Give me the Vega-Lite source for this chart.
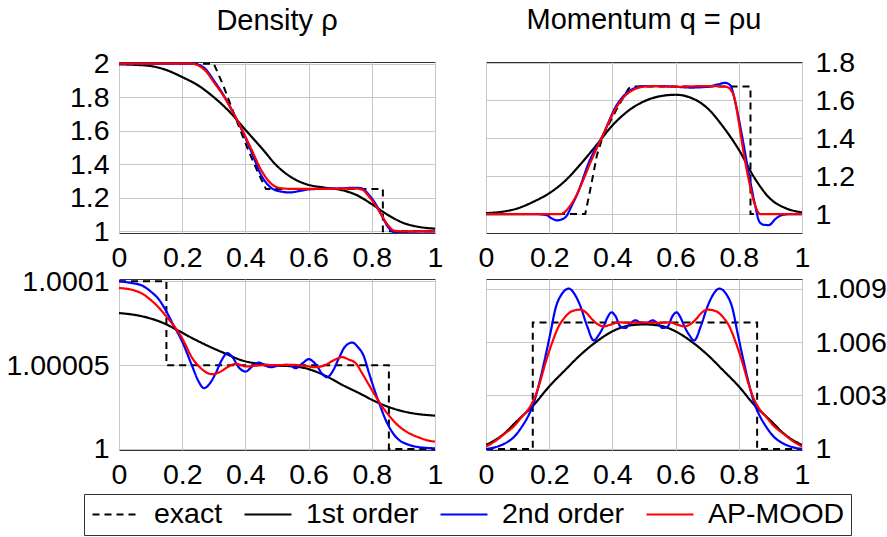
{
"$schema": "https://vega.github.io/schema/vega-lite/v6.json",
"padding": 5,
"background": "white",
"config": {
  "font": "Liberation Sans",
  "view": {"stroke": "#333", "strokeWidth": 1},
  "axis": {"labelFontSize": 28.5, "labelFont": "Liberation Sans", "labelColor": "#000", "ticks": false, "domain": false, "gridColor": "#c8c8c8", "gridWidth": 1, "labelFlush": false, "labelOverlap": false, "labelPadding": 10, "title": null},
  "axisX": {"labelPadding": 10},
  "axisRight": {"labelPadding": 13},
  "title": {"fontSize": 29, "fontWeight": "normal", "color": "#000", "font": "Liberation Sans"},
  "legend": {"orient": "none", "legendX": -35, "legendY": 432, "direction": "horizontal", "columns": 4, "symbolType": "M-1,0H3", "symbolSize": 552, "symbolStrokeWidth": 2, "labelFontSize": 28.5, "labelFont": "Liberation Sans", "labelColor": "#000", "labelOffset": 35.5, "columnPadding": 17, "padding": 6, "strokeColor": "#333", "labelLimit": 400}
},
"datasets": {
"d1": [
{"x":0,"y":2,"s":"exact"},{"x":0.3,"y":2,"s":"exact"},{"x":0.33,"y":1.87,"s":"exact"},{"x":0.37,"y":1.67,"s":"exact"},{"x":0.41,"y":1.48,"s":"exact"},{"x":0.44,"y":1.35,"s":"exact"},{"x":0.465,"y":1.253,"s":"exact"},{"x":0.835,"y":1.253,"s":"exact"},{"x":0.835,"y":1,"s":"exact"},{"x":1,"y":1,"s":"exact"},
{"x":0,"y":1.996,"s":"1st order"},{"x":0.05,"y":1.993,"s":"1st order"},{"x":0.1,"y":1.986,"s":"1st order"},{"x":0.15,"y":1.962,"s":"1st order"},{"x":0.2,"y":1.92,"s":"1st order"},{"x":0.25,"y":1.871,"s":"1st order"},{"x":0.3,"y":1.8,"s":"1st order"},{"x":0.35,"y":1.713,"s":"1st order"},{"x":0.4,"y":1.605,"s":"1st order"},{"x":0.45,"y":1.5,"s":"1st order"},{"x":0.5,"y":1.39,"s":"1st order"},{"x":0.55,"y":1.317,"s":"1st order"},{"x":0.6,"y":1.277,"s":"1st order"},{"x":0.65,"y":1.261,"s":"1st order"},{"x":0.7,"y":1.248,"s":"1st order"},{"x":0.75,"y":1.218,"s":"1st order"},{"x":0.8,"y":1.162,"s":"1st order"},{"x":0.85,"y":1.099,"s":"1st order"},{"x":0.9,"y":1.05,"s":"1st order"},{"x":0.95,"y":1.026,"s":"1st order"},{"x":1,"y":1.016,"s":"1st order"},
{"x":0,"y":2,"s":"2nd order"},{"x":0.23,"y":2,"s":"2nd order"},{"x":0.25,"y":1.995,"s":"2nd order"},{"x":0.275,"y":1.965,"s":"2nd order"},{"x":0.3,"y":1.9,"s":"2nd order"},{"x":0.33,"y":1.815,"s":"2nd order"},{"x":0.36,"y":1.713,"s":"2nd order"},{"x":0.39,"y":1.6,"s":"2nd order"},{"x":0.42,"y":1.47,"s":"2nd order"},{"x":0.45,"y":1.335,"s":"2nd order"},{"x":0.48,"y":1.262,"s":"2nd order"},{"x":0.51,"y":1.238,"s":"2nd order"},{"x":0.54,"y":1.232,"s":"2nd order"},{"x":0.57,"y":1.24,"s":"2nd order"},{"x":0.6,"y":1.25,"s":"2nd order"},{"x":0.65,"y":1.254,"s":"2nd order"},{"x":0.7,"y":1.256,"s":"2nd order"},{"x":0.75,"y":1.26,"s":"2nd order"},{"x":0.77,"y":1.255,"s":"2nd order"},{"x":0.79,"y":1.22,"s":"2nd order"},{"x":0.81,"y":1.17,"s":"2nd order"},{"x":0.83,"y":1.1,"s":"2nd order"},{"x":0.85,"y":1.03,"s":"2nd order"},{"x":0.87,"y":0.995,"s":"2nd order"},{"x":0.89,"y":0.992,"s":"2nd order"},{"x":0.92,"y":0.998,"s":"2nd order"},{"x":1,"y":1,"s":"2nd order"},
{"x":0,"y":2,"s":"AP-MOOD"},{"x":0.23,"y":2,"s":"AP-MOOD"},{"x":0.25,"y":1.99,"s":"AP-MOOD"},{"x":0.275,"y":1.955,"s":"AP-MOOD"},{"x":0.3,"y":1.89,"s":"AP-MOOD"},{"x":0.33,"y":1.81,"s":"AP-MOOD"},{"x":0.36,"y":1.713,"s":"AP-MOOD"},{"x":0.39,"y":1.604,"s":"AP-MOOD"},{"x":0.42,"y":1.485,"s":"AP-MOOD"},{"x":0.45,"y":1.366,"s":"AP-MOOD"},{"x":0.48,"y":1.287,"s":"AP-MOOD"},{"x":0.51,"y":1.258,"s":"AP-MOOD"},{"x":0.55,"y":1.253,"s":"AP-MOOD"},{"x":0.6,"y":1.253,"s":"AP-MOOD"},{"x":0.65,"y":1.253,"s":"AP-MOOD"},{"x":0.7,"y":1.255,"s":"AP-MOOD"},{"x":0.75,"y":1.255,"s":"AP-MOOD"},{"x":0.77,"y":1.248,"s":"AP-MOOD"},{"x":0.79,"y":1.21,"s":"AP-MOOD"},{"x":0.81,"y":1.16,"s":"AP-MOOD"},{"x":0.83,"y":1.1,"s":"AP-MOOD"},{"x":0.85,"y":1.04,"s":"AP-MOOD"},{"x":0.87,"y":1.005,"s":"AP-MOOD"},{"x":0.9,"y":1,"s":"AP-MOOD"},{"x":1,"y":1,"s":"AP-MOOD"}
],
"d2": [
{"x":0,"y":1,"s":"exact"},{"x":0.314,"y":1,"s":"exact"},{"x":0.33,"y":1.13,"s":"exact"},{"x":0.351,"y":1.31,"s":"exact"},{"x":0.372,"y":1.424,"s":"exact"},{"x":0.4,"y":1.51,"s":"exact"},{"x":0.42,"y":1.574,"s":"exact"},{"x":0.451,"y":1.662,"s":"exact"},{"x":0.46,"y":1.674,"s":"exact"},{"x":0.837,"y":1.674,"s":"exact"},{"x":0.837,"y":1,"s":"exact"},{"x":1,"y":1,"s":"exact"},
{"x":0,"y":1.005,"s":"1st order"},{"x":0.05,"y":1.012,"s":"1st order"},{"x":0.1,"y":1.03,"s":"1st order"},{"x":0.15,"y":1.065,"s":"1st order"},{"x":0.2,"y":1.11,"s":"1st order"},{"x":0.25,"y":1.175,"s":"1st order"},{"x":0.3,"y":1.265,"s":"1st order"},{"x":0.35,"y":1.365,"s":"1st order"},{"x":0.4,"y":1.468,"s":"1st order"},{"x":0.45,"y":1.545,"s":"1st order"},{"x":0.5,"y":1.595,"s":"1st order"},{"x":0.55,"y":1.622,"s":"1st order"},{"x":0.6,"y":1.63,"s":"1st order"},{"x":0.65,"y":1.613,"s":"1st order"},{"x":0.7,"y":1.56,"s":"1st order"},{"x":0.75,"y":1.462,"s":"1st order"},{"x":0.8,"y":1.34,"s":"1st order"},{"x":0.85,"y":1.19,"s":"1st order"},{"x":0.9,"y":1.08,"s":"1st order"},{"x":0.95,"y":1.03,"s":"1st order"},{"x":1,"y":1.009,"s":"1st order"},
{"x":0,"y":1,"s":"2nd order"},{"x":0.15,"y":1,"s":"2nd order"},{"x":0.19,"y":0.995,"s":"2nd order"},{"x":0.21,"y":0.975,"s":"2nd order"},{"x":0.225,"y":0.967,"s":"2nd order"},{"x":0.24,"y":0.972,"s":"2nd order"},{"x":0.255,"y":0.99,"s":"2nd order"},{"x":0.27,"y":1.04,"s":"2nd order"},{"x":0.29,"y":1.11,"s":"2nd order"},{"x":0.325,"y":1.27,"s":"2nd order"},{"x":0.372,"y":1.424,"s":"2nd order"},{"x":0.41,"y":1.565,"s":"2nd order"},{"x":0.441,"y":1.633,"s":"2nd order"},{"x":0.47,"y":1.665,"s":"2nd order"},{"x":0.5,"y":1.676,"s":"2nd order"},{"x":0.55,"y":1.676,"s":"2nd order"},{"x":0.6,"y":1.672,"s":"2nd order"},{"x":0.65,"y":1.668,"s":"2nd order"},{"x":0.7,"y":1.672,"s":"2nd order"},{"x":0.735,"y":1.685,"s":"2nd order"},{"x":0.757,"y":1.693,"s":"2nd order"},{"x":0.773,"y":1.68,"s":"2nd order"},{"x":0.789,"y":1.59,"s":"2nd order"},{"x":0.81,"y":1.415,"s":"2nd order"},{"x":0.831,"y":1.22,"s":"2nd order"},{"x":0.852,"y":1.044,"s":"2nd order"},{"x":0.865,"y":0.96,"s":"2nd order"},{"x":0.88,"y":0.943,"s":"2nd order"},{"x":0.895,"y":0.942,"s":"2nd order"},{"x":0.916,"y":0.974,"s":"2nd order"},{"x":0.937,"y":0.995,"s":"2nd order"},{"x":0.968,"y":1,"s":"2nd order"},{"x":1,"y":1,"s":"2nd order"},
{"x":0,"y":1,"s":"AP-MOOD"},{"x":0.235,"y":1,"s":"AP-MOOD"},{"x":0.25,"y":1.012,"s":"AP-MOOD"},{"x":0.262,"y":1.035,"s":"AP-MOOD"},{"x":0.28,"y":1.08,"s":"AP-MOOD"},{"x":0.3,"y":1.15,"s":"AP-MOOD"},{"x":0.335,"y":1.29,"s":"AP-MOOD"},{"x":0.372,"y":1.424,"s":"AP-MOOD"},{"x":0.41,"y":1.556,"s":"AP-MOOD"},{"x":0.441,"y":1.626,"s":"AP-MOOD"},{"x":0.465,"y":1.655,"s":"AP-MOOD"},{"x":0.49,"y":1.67,"s":"AP-MOOD"},{"x":0.525,"y":1.676,"s":"AP-MOOD"},{"x":0.6,"y":1.672,"s":"AP-MOOD"},{"x":0.7,"y":1.676,"s":"AP-MOOD"},{"x":0.76,"y":1.672,"s":"AP-MOOD"},{"x":0.775,"y":1.655,"s":"AP-MOOD"},{"x":0.785,"y":1.62,"s":"AP-MOOD"},{"x":0.8,"y":1.485,"s":"AP-MOOD"},{"x":0.815,"y":1.326,"s":"AP-MOOD"},{"x":0.831,"y":1.185,"s":"AP-MOOD"},{"x":0.852,"y":1.044,"s":"AP-MOOD"},{"x":0.868,"y":1,"s":"AP-MOOD"},{"x":1,"y":1,"s":"AP-MOOD"}
],
"d3": [
{"x":0,"y":1.0001,"s":"exact"},{"x":0.15,"y":1.0001,"s":"exact"},{"x":0.15,"y":1.00005,"s":"exact"},{"x":0.854,"y":1.00005,"s":"exact"},{"x":0.854,"y":1,"s":"exact"},{"x":1,"y":1,"s":"exact"},
{"x":0,"y":1.0000811,"s":"1st order"},{"x":0.074,"y":1.0000791,"s":"1st order"},{"x":0.148,"y":1.0000745,"s":"1st order"},{"x":0.179,"y":1.0000715,"s":"1st order"},{"x":0.232,"y":1.0000661,"s":"1st order"},{"x":0.285,"y":1.0000612,"s":"1st order"},{"x":0.338,"y":1.0000568,"s":"1st order"},{"x":0.39,"y":1.0000528,"s":"1st order"},{"x":0.443,"y":1.0000508,"s":"1st order"},{"x":0.496,"y":1.0000498,"s":"1st order"},{"x":0.559,"y":1.0000492,"s":"1st order"},{"x":0.601,"y":1.0000476,"s":"1st order"},{"x":0.654,"y":1.0000436,"s":"1st order"},{"x":0.707,"y":1.0000382,"s":"1st order"},{"x":0.76,"y":1.0000333,"s":"1st order"},{"x":0.812,"y":1.0000283,"s":"1st order"},{"x":0.865,"y":1.0000243,"s":"1st order"},{"x":0.918,"y":1.0000217,"s":"1st order"},{"x":1,"y":1.0000199,"s":"1st order"},
{"x":0,"y":1.0001,"s":"2nd order"},{"x":0.04,"y":1.000099,"s":"2nd order"},{"x":0.074,"y":1.0000974,"s":"2nd order"},{"x":0.1,"y":1.000094,"s":"2nd order"},{"x":0.127,"y":1.000089,"s":"2nd order"},{"x":0.15,"y":1.000082,"s":"2nd order"},{"x":0.169,"y":1.0000751,"s":"2nd order"},{"x":0.2,"y":1.0000641,"s":"2nd order"},{"x":0.232,"y":1.0000492,"s":"2nd order"},{"x":0.25,"y":1.000041,"s":"2nd order"},{"x":0.269,"y":1.0000363,"s":"2nd order"},{"x":0.287,"y":1.000039,"s":"2nd order"},{"x":0.306,"y":1.0000452,"s":"2nd order"},{"x":0.325,"y":1.000053,"s":"2nd order"},{"x":0.343,"y":1.0000572,"s":"2nd order"},{"x":0.36,"y":1.0000545,"s":"2nd order"},{"x":0.38,"y":1.0000485,"s":"2nd order"},{"x":0.401,"y":1.0000462,"s":"2nd order"},{"x":0.42,"y":1.000049,"s":"2nd order"},{"x":0.443,"y":1.0000516,"s":"2nd order"},{"x":0.46,"y":1.00005,"s":"2nd order"},{"x":0.48,"y":1.0000488,"s":"2nd order"},{"x":0.5,"y":1.0000495,"s":"2nd order"},{"x":0.527,"y":1.0000502,"s":"2nd order"},{"x":0.545,"y":1.0000495,"s":"2nd order"},{"x":0.559,"y":1.0000482,"s":"2nd order"},{"x":0.58,"y":1.000051,"s":"2nd order"},{"x":0.601,"y":1.0000536,"s":"2nd order"},{"x":0.615,"y":1.000052,"s":"2nd order"},{"x":0.628,"y":1.0000492,"s":"2nd order"},{"x":0.642,"y":1.000045,"s":"2nd order"},{"x":0.659,"y":1.0000428,"s":"2nd order"},{"x":0.675,"y":1.000046,"s":"2nd order"},{"x":0.696,"y":1.0000542,"s":"2nd order"},{"x":0.715,"y":1.000061,"s":"2nd order"},{"x":0.738,"y":1.0000635,"s":"2nd order"},{"x":0.755,"y":1.000061,"s":"2nd order"},{"x":0.775,"y":1.0000552,"s":"2nd order"},{"x":0.79,"y":1.000046,"s":"2nd order"},{"x":0.812,"y":1.0000333,"s":"2nd order"},{"x":0.828,"y":1.000025,"s":"2nd order"},{"x":0.844,"y":1.0000173,"s":"2nd order"},{"x":0.865,"y":1.00001,"s":"2nd order"},{"x":0.886,"y":1.0000054,"s":"2nd order"},{"x":0.91,"y":1.000003,"s":"2nd order"},{"x":0.939,"y":1.0000014,"s":"2nd order"},{"x":0.97,"y":1.0000007,"s":"2nd order"},{"x":1,"y":1.0000004,"s":"2nd order"},
{"x":0,"y":1.000096,"s":"AP-MOOD"},{"x":0.04,"y":1.000095,"s":"AP-MOOD"},{"x":0.074,"y":1.0000926,"s":"AP-MOOD"},{"x":0.1,"y":1.000089,"s":"AP-MOOD"},{"x":0.127,"y":1.0000841,"s":"AP-MOOD"},{"x":0.15,"y":1.000079,"s":"AP-MOOD"},{"x":0.179,"y":1.0000721,"s":"AP-MOOD"},{"x":0.2,"y":1.000066,"s":"AP-MOOD"},{"x":0.232,"y":1.0000542,"s":"AP-MOOD"},{"x":0.26,"y":1.000048,"s":"AP-MOOD"},{"x":0.28,"y":1.0000453,"s":"AP-MOOD"},{"x":0.295,"y":1.0000446,"s":"AP-MOOD"},{"x":0.32,"y":1.000046,"s":"AP-MOOD"},{"x":0.345,"y":1.000049,"s":"AP-MOOD"},{"x":0.369,"y":1.0000508,"s":"AP-MOOD"},{"x":0.39,"y":1.0000498,"s":"AP-MOOD"},{"x":0.401,"y":1.0000492,"s":"AP-MOOD"},{"x":0.43,"y":1.0000497,"s":"AP-MOOD"},{"x":0.46,"y":1.00005,"s":"AP-MOOD"},{"x":0.5,"y":1.00005,"s":"AP-MOOD"},{"x":0.55,"y":1.0000502,"s":"AP-MOOD"},{"x":0.59,"y":1.0000495,"s":"AP-MOOD"},{"x":0.622,"y":1.0000488,"s":"AP-MOOD"},{"x":0.654,"y":1.0000502,"s":"AP-MOOD"},{"x":0.68,"y":1.000053,"s":"AP-MOOD"},{"x":0.707,"y":1.0000548,"s":"AP-MOOD"},{"x":0.725,"y":1.0000535,"s":"AP-MOOD"},{"x":0.749,"y":1.0000512,"s":"AP-MOOD"},{"x":0.77,"y":1.000045,"s":"AP-MOOD"},{"x":0.791,"y":1.0000382,"s":"AP-MOOD"},{"x":0.812,"y":1.0000315,"s":"AP-MOOD"},{"x":0.833,"y":1.0000253,"s":"AP-MOOD"},{"x":0.855,"y":1.0000198,"s":"AP-MOOD"},{"x":0.876,"y":1.0000153,"s":"AP-MOOD"},{"x":0.9,"y":1.0000115,"s":"AP-MOOD"},{"x":0.918,"y":1.0000094,"s":"AP-MOOD"},{"x":0.95,"y":1.0000068,"s":"AP-MOOD"},{"x":0.975,"y":1.0000052,"s":"AP-MOOD"},{"x":1,"y":1.0000044,"s":"AP-MOOD"}
],
"d4": [
{"x":0,"y":1,"s":"exact"},{"x":0.148,"y":1,"s":"exact"},{"x":0.148,"y":1.0071,"s":"exact"},{"x":0.858,"y":1.0071,"s":"exact"},{"x":0.858,"y":1,"s":"exact"},{"x":1,"y":1,"s":"exact"},
{"x":0,"y":1.000225,"s":"1st order"},{"x":0.05,"y":1.00075,"s":"1st order"},{"x":0.1,"y":1.0016,"s":"1st order"},{"x":0.15,"y":1.00245,"s":"1st order"},{"x":0.2,"y":1.00351,"s":"1st order"},{"x":0.25,"y":1.00442,"s":"1st order"},{"x":0.3,"y":1.0053,"s":"1st order"},{"x":0.35,"y":1.00603,"s":"1st order"},{"x":0.4,"y":1.0066,"s":"1st order"},{"x":0.45,"y":1.00692,"s":"1st order"},{"x":0.5,"y":1.00699,"s":"1st order"},{"x":0.55,"y":1.00692,"s":"1st order"},{"x":0.6,"y":1.0066,"s":"1st order"},{"x":0.65,"y":1.00603,"s":"1st order"},{"x":0.7,"y":1.0053,"s":"1st order"},{"x":0.75,"y":1.00442,"s":"1st order"},{"x":0.8,"y":1.00351,"s":"1st order"},{"x":0.85,"y":1.00245,"s":"1st order"},{"x":0.9,"y":1.0016,"s":"1st order"},{"x":0.95,"y":1.00075,"s":"1st order"},{"x":1,"y":1.000225,"s":"1st order"},
{"x":0,"y":1,"s":"2nd order"},{"x":0.03,"y":1.0001,"s":"2nd order"},{"x":0.061,"y":1.00032,"s":"2nd order"},{"x":0.09,"y":1.0007,"s":"2nd order"},{"x":0.114,"y":1.00126,"s":"2nd order"},{"x":0.135,"y":1.0019,"s":"2nd order"},{"x":0.151,"y":1.00257,"s":"2nd order"},{"x":0.17,"y":1.0038,"s":"2nd order"},{"x":0.188,"y":1.00519,"s":"2nd order"},{"x":0.205,"y":1.0066,"s":"2nd order"},{"x":0.219,"y":1.00782,"s":"2nd order"},{"x":0.24,"y":1.0087,"s":"2nd order"},{"x":0.262,"y":1.009,"s":"2nd order"},{"x":0.28,"y":1.0087,"s":"2nd order"},{"x":0.299,"y":1.008,"s":"2nd order"},{"x":0.32,"y":1.0069,"s":"2nd order"},{"x":0.341,"y":1.00609,"s":"2nd order"},{"x":0.357,"y":1.0064,"s":"2nd order"},{"x":0.372,"y":1.00688,"s":"2nd order"},{"x":0.385,"y":1.0074,"s":"2nd order"},{"x":0.397,"y":1.00767,"s":"2nd order"},{"x":0.41,"y":1.00745,"s":"2nd order"},{"x":0.425,"y":1.00688,"s":"2nd order"},{"x":0.441,"y":1.00679,"s":"2nd order"},{"x":0.457,"y":1.00705,"s":"2nd order"},{"x":0.473,"y":1.00722,"s":"2nd order"},{"x":0.488,"y":1.0071,"s":"2nd order"},{"x":0.5,"y":1.00707,"s":"2nd order"},{"x":0.512,"y":1.0071,"s":"2nd order"},{"x":0.527,"y":1.00722,"s":"2nd order"},{"x":0.543,"y":1.00705,"s":"2nd order"},{"x":0.559,"y":1.00679,"s":"2nd order"},{"x":0.575,"y":1.00688,"s":"2nd order"},{"x":0.59,"y":1.00745,"s":"2nd order"},{"x":0.603,"y":1.00767,"s":"2nd order"},{"x":0.615,"y":1.0074,"s":"2nd order"},{"x":0.628,"y":1.00688,"s":"2nd order"},{"x":0.643,"y":1.0064,"s":"2nd order"},{"x":0.659,"y":1.00609,"s":"2nd order"},{"x":0.68,"y":1.0069,"s":"2nd order"},{"x":0.701,"y":1.008,"s":"2nd order"},{"x":0.72,"y":1.0087,"s":"2nd order"},{"x":0.738,"y":1.009,"s":"2nd order"},{"x":0.76,"y":1.0087,"s":"2nd order"},{"x":0.781,"y":1.00782,"s":"2nd order"},{"x":0.795,"y":1.0066,"s":"2nd order"},{"x":0.812,"y":1.00519,"s":"2nd order"},{"x":0.83,"y":1.0038,"s":"2nd order"},{"x":0.849,"y":1.00257,"s":"2nd order"},{"x":0.865,"y":1.0019,"s":"2nd order"},{"x":0.886,"y":1.00126,"s":"2nd order"},{"x":0.91,"y":1.0007,"s":"2nd order"},{"x":0.939,"y":1.00032,"s":"2nd order"},{"x":0.97,"y":1.0001,"s":"2nd order"},{"x":1,"y":1,"s":"2nd order"},
{"x":0,"y":1.00013,"s":"AP-MOOD"},{"x":0.03,"y":1.00045,"s":"AP-MOOD"},{"x":0.061,"y":1.00088,"s":"AP-MOOD"},{"x":0.09,"y":1.0013,"s":"AP-MOOD"},{"x":0.114,"y":1.00182,"s":"AP-MOOD"},{"x":0.135,"y":1.00225,"s":"AP-MOOD"},{"x":0.151,"y":1.00276,"s":"AP-MOOD"},{"x":0.17,"y":1.0037,"s":"AP-MOOD"},{"x":0.188,"y":1.00482,"s":"AP-MOOD"},{"x":0.21,"y":1.006,"s":"AP-MOOD"},{"x":0.23,"y":1.00688,"s":"AP-MOOD"},{"x":0.25,"y":1.0074,"s":"AP-MOOD"},{"x":0.272,"y":1.00773,"s":"AP-MOOD"},{"x":0.299,"y":1.00782,"s":"AP-MOOD"},{"x":0.32,"y":1.0076,"s":"AP-MOOD"},{"x":0.335,"y":1.00729,"s":"AP-MOOD"},{"x":0.355,"y":1.00698,"s":"AP-MOOD"},{"x":0.372,"y":1.00688,"s":"AP-MOOD"},{"x":0.39,"y":1.00695,"s":"AP-MOOD"},{"x":0.42,"y":1.00711,"s":"AP-MOOD"},{"x":0.45,"y":1.00708,"s":"AP-MOOD"},{"x":0.5,"y":1.0071,"s":"AP-MOOD"},{"x":0.55,"y":1.00708,"s":"AP-MOOD"},{"x":0.58,"y":1.00711,"s":"AP-MOOD"},{"x":0.61,"y":1.00695,"s":"AP-MOOD"},{"x":0.628,"y":1.00688,"s":"AP-MOOD"},{"x":0.645,"y":1.00698,"s":"AP-MOOD"},{"x":0.665,"y":1.00729,"s":"AP-MOOD"},{"x":0.68,"y":1.0076,"s":"AP-MOOD"},{"x":0.701,"y":1.00782,"s":"AP-MOOD"},{"x":0.728,"y":1.00773,"s":"AP-MOOD"},{"x":0.75,"y":1.0074,"s":"AP-MOOD"},{"x":0.77,"y":1.00688,"s":"AP-MOOD"},{"x":0.79,"y":1.006,"s":"AP-MOOD"},{"x":0.812,"y":1.00482,"s":"AP-MOOD"},{"x":0.83,"y":1.0037,"s":"AP-MOOD"},{"x":0.849,"y":1.00276,"s":"AP-MOOD"},{"x":0.865,"y":1.00225,"s":"AP-MOOD"},{"x":0.886,"y":1.00182,"s":"AP-MOOD"},{"x":0.91,"y":1.0013,"s":"AP-MOOD"},{"x":0.939,"y":1.00088,"s":"AP-MOOD"},{"x":0.97,"y":1.00045,"s":"AP-MOOD"},{"x":1,"y":1.00013,"s":"AP-MOOD"}
]
},
"columns": 2,
"spacing": {"row": 46, "column": 51},
"bounds": "flush",
"concat": [
{
  "width": 316, "height": 171,
  "title": {"text": "Density ρ", "frame": "group", "offset": 14},
  "data": {"name": "d1"},
  "encoding": {
    "x": {"field": "x", "type": "quantitative", "scale": {"domain": [0, 1], "nice": false}, "axis": {"values": [0, 0.2, 0.4, 0.6, 0.8, 1], "format": ".1~f"}},
    "y": {"field": "y", "type": "quantitative", "scale": {"domain": [0.99, 2.01], "nice": false, "zero": false}, "axis": {"orient": "left", "values": [1, 1.2, 1.4, 1.6, 1.8, 2], "format": ".1~f"}},
    "color": {"field": "s", "type": "nominal", "scale": {"domain": ["exact", "1st order", "2nd order", "AP-MOOD"], "range": ["#000000", "#000000", "#0000ff", "#ff0000"]}, "legend": {"title": null}},
    "strokeDash": {"field": "s", "type": "nominal", "scale": {"domain": ["exact", "1st order", "2nd order", "AP-MOOD"], "range": [[7, 5], [1, 0], [1, 0], [1, 0]]}, "legend": {"title": null}}
  },
  "layer": [
    {"transform": [{"filter": "datum.s === 'exact'"}], "mark": {"type": "line", "strokeWidth": 2, "interpolate": "linear", "clip": true}},
    {"transform": [{"filter": "datum.s !== 'exact'"}], "mark": {"type": "line", "strokeWidth": 2.2, "interpolate": "monotone", "clip": true}}
  ]
},
{
  "width": 316, "height": 171,
  "title": {"text": "Momentum q = ρu", "frame": "group", "offset": 14},
  "data": {"name": "d2"},
  "encoding": {
    "x": {"field": "x", "type": "quantitative", "scale": {"domain": [0, 1], "nice": false}, "axis": {"values": [0, 0.2, 0.4, 0.6, 0.8, 1], "format": ".1~f"}},
    "y": {"field": "y", "type": "quantitative", "scale": {"domain": [0.9, 1.803], "nice": false, "zero": false}, "axis": {"orient": "right", "values": [1, 1.2, 1.4, 1.6, 1.8], "format": ".1~f"}},
    "color": {"field": "s", "type": "nominal", "scale": {"domain": ["exact", "1st order", "2nd order", "AP-MOOD"], "range": ["#000000", "#000000", "#0000ff", "#ff0000"]}, "legend": {"title": null}},
    "strokeDash": {"field": "s", "type": "nominal", "scale": {"domain": ["exact", "1st order", "2nd order", "AP-MOOD"], "range": [[7, 5], [1, 0], [1, 0], [1, 0]]}, "legend": {"title": null}}
  },
  "layer": [
    {"transform": [{"filter": "datum.s === 'exact'"}], "mark": {"type": "line", "strokeWidth": 2, "interpolate": "linear", "clip": true}},
    {"transform": [{"filter": "datum.s !== 'exact'"}], "mark": {"type": "line", "strokeWidth": 2.2, "interpolate": "monotone", "clip": true}}
  ]
},
{
  "width": 316, "height": 171,
  "data": {"name": "d3"},
  "encoding": {
    "x": {"field": "x", "type": "quantitative", "scale": {"domain": [0, 1], "nice": false}, "axis": {"values": [0, 0.2, 0.4, 0.6, 0.8, 1], "format": ".1~f"}},
    "y": {"field": "y", "type": "quantitative", "scale": {"domain": [0.9999994, 1.0001014], "nice": false, "zero": false}, "axis": {"orient": "left", "values": [1, 1.00005, 1.0001], "format": ".5~f"}},
    "color": {"field": "s", "type": "nominal", "scale": {"domain": ["exact", "1st order", "2nd order", "AP-MOOD"], "range": ["#000000", "#000000", "#0000ff", "#ff0000"]}, "legend": {"title": null}},
    "strokeDash": {"field": "s", "type": "nominal", "scale": {"domain": ["exact", "1st order", "2nd order", "AP-MOOD"], "range": [[7, 5], [1, 0], [1, 0], [1, 0]]}, "legend": {"title": null}}
  },
  "layer": [
    {"transform": [{"filter": "datum.s === 'exact'"}], "mark": {"type": "line", "strokeWidth": 2, "interpolate": "linear", "clip": true}},
    {"transform": [{"filter": "datum.s !== 'exact'"}], "mark": {"type": "line", "strokeWidth": 2.2, "interpolate": "monotone", "clip": true}}
  ]
},
{
  "width": 316, "height": 171,
  "data": {"name": "d4"},
  "encoding": {
    "x": {"field": "x", "type": "quantitative", "scale": {"domain": [0, 1], "nice": false}, "axis": {"values": [0, 0.2, 0.4, 0.6, 0.8, 1], "format": ".1~f"}},
    "y": {"field": "y", "type": "quantitative", "scale": {"domain": [0.99994, 1.00954], "nice": false, "zero": false}, "axis": {"orient": "right", "values": [1, 1.003, 1.006, 1.009], "format": ".3~f"}},
    "color": {"field": "s", "type": "nominal", "scale": {"domain": ["exact", "1st order", "2nd order", "AP-MOOD"], "range": ["#000000", "#000000", "#0000ff", "#ff0000"]}, "legend": {"title": null}},
    "strokeDash": {"field": "s", "type": "nominal", "scale": {"domain": ["exact", "1st order", "2nd order", "AP-MOOD"], "range": [[7, 5], [1, 0], [1, 0], [1, 0]]}, "legend": {"title": null}}
  },
  "layer": [
    {"transform": [{"filter": "datum.s === 'exact'"}], "mark": {"type": "line", "strokeWidth": 2, "interpolate": "linear", "clip": true}},
    {"transform": [{"filter": "datum.s !== 'exact'"}], "mark": {"type": "line", "strokeWidth": 2.2, "interpolate": "monotone", "clip": true}}
  ]
}
]
}
